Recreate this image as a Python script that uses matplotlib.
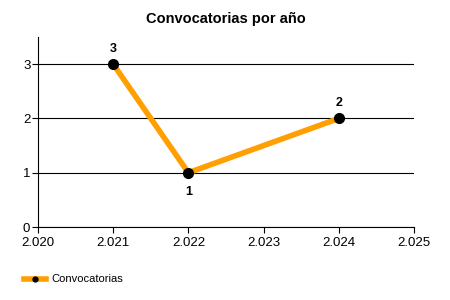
import matplotlib
matplotlib.use('Agg')
import matplotlib.pyplot as plt
from matplotlib.ticker import FuncFormatter, MultipleLocator

plt.rcParams['font.family'] = ['Liberation Sans', 'DejaVu Sans']

years = [2021, 2022, 2024]
counts = [3, 1, 2]
series_name = 'Convocatorias'
title = 'Convocatorias por año'

fig = plt.figure(figsize=(4.5, 3), dpi=100)
ax = fig.add_axes([0.0844, 0.2433, 0.8356, 0.6334])

ax.plot(years, counts, color='#FF9F00', linewidth=4, marker='o',
        markersize=7, markerfacecolor='black', markeredgecolor='black',
        label=series_name, zorder=3)

# value labels: above, except when the point is a dip
for i, (x, y) in enumerate(zip(years, counts)):
    below = 0 < i < len(counts) - 1 and y < counts[i - 1] and y < counts[i + 1]
    ax.annotate(str(y), (x, y), xytext=(0, -14 if below else 11),
                textcoords='offset points', ha='center',
                va='center', fontsize=9, fontweight='bold')

ax.set_xlim(2020, 2025)
ax.set_ylim(0, 3.5)
ax.xaxis.set_major_locator(MultipleLocator(1))
ax.yaxis.set_major_locator(MultipleLocator(1))
ax.xaxis.set_major_formatter(FuncFormatter(lambda v, p: f'{v:,.0f}'.replace(',', '.')))
ax.yaxis.grid(True, color='black', linewidth=0.8)
ax.set_axisbelow(True)
for s in ['top', 'right']:
    ax.spines[s].set_visible(False)
ax.tick_params(labelsize=9.5, length=4, width=0.8, pad=1.5)
ax.tick_params(axis='x', pad=3)

ax.set_title(title, fontsize=10.5, fontweight='bold', pad=10)

ax.legend(loc='lower left', bbox_to_anchor=(-0.065, -0.355), frameon=False,
          fontsize=8, handlelength=2.0, markerscale=0.5, handletextpad=0.5)

fig.savefig('out.png', dpi=100)
